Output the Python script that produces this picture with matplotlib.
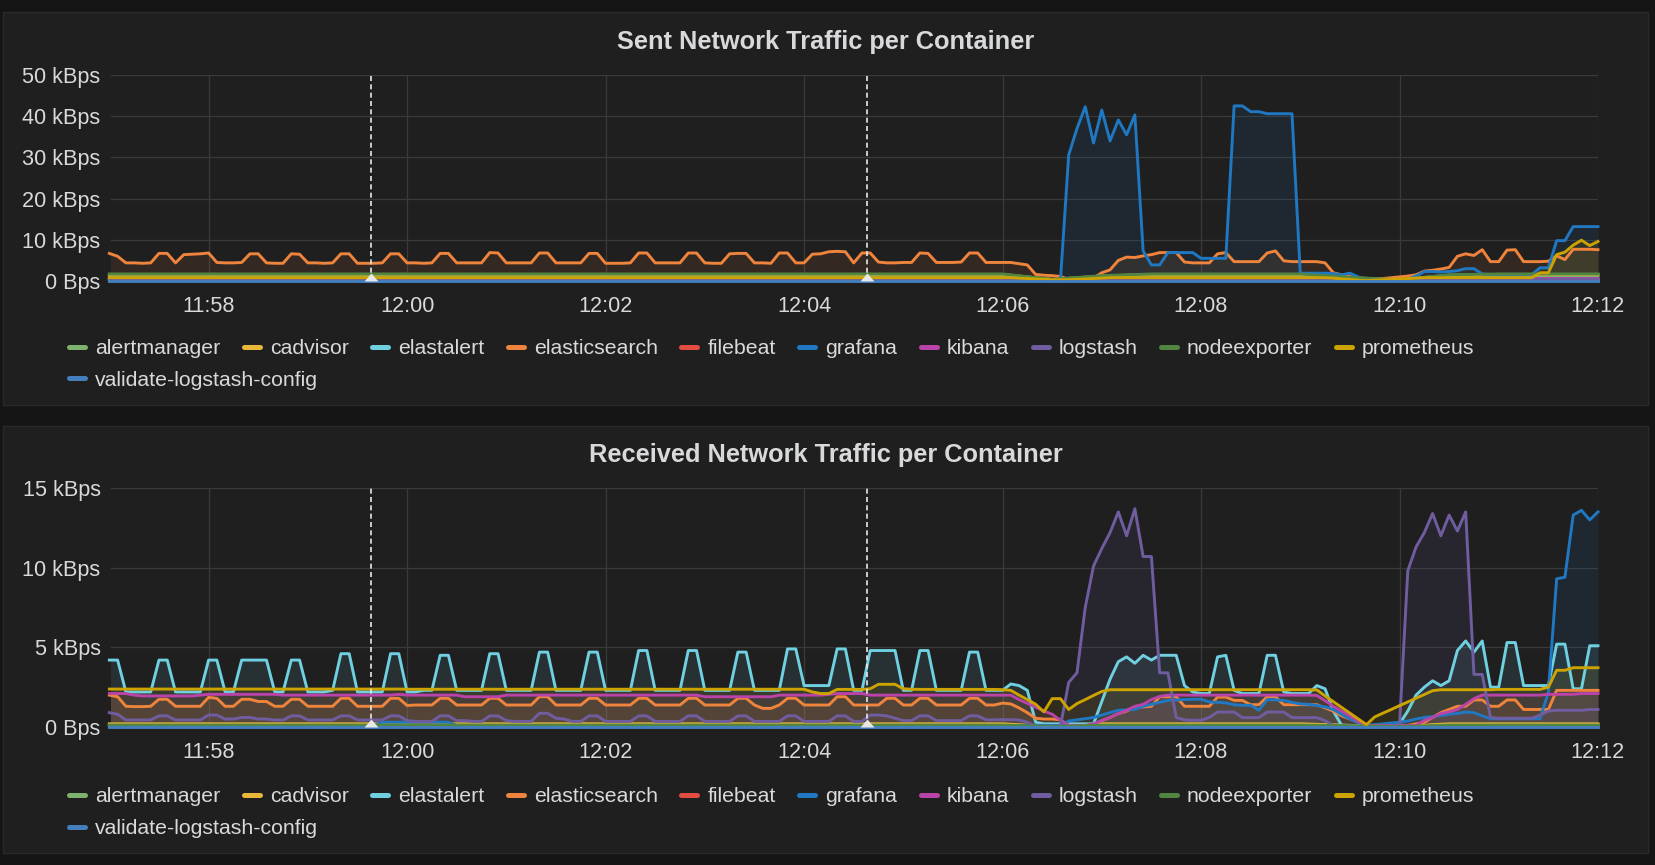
import numpy as np
import matplotlib
matplotlib.use('Agg')
import matplotlib.pyplot as plt
from matplotlib.lines import Line2D
from matplotlib.patches import Rectangle
from matplotlib.ticker import FuncFormatter

plt.rcParams['font.family'] = ['Liberation Sans', 'DejaVu Sans']

W, H = 1655, 865
START = 11 * 3600 + 57 * 60   # x values are seconds after 11:57:00
END = 900
TEXT = '#d8d9da'
FS = 15.6
LEGEND_FS = 15.3

containers = ['alertmanager', 'cadvisor', 'elastalert', 'elasticsearch', 'filebeat',
              'grafana', 'kibana', 'logstash', 'nodeexporter', 'prometheus',
              'validate-logstash-config']
colors = ['#7EB26D', '#EAB839', '#6ED0E0', '#EF843C', '#E24D42', '#1F78C1',
          '#BA43A9', '#705DA0', '#508642', '#CCA300', '#447EBC']

# annotation markers (seconds after 11:57:00)
annotation_times = [158, 458]

# ---------------- sent traffic, kBps ----------------
# busy series: one value every 5 s (one row = one minute)
sent_elasticsearch = [
    6.7, 6.0, 4.4, 4.4, 4.3, 4.4, 6.7, 6.7, 4.4, 6.4, 6.5, 6.6,
    6.8, 4.5, 4.4, 4.4, 4.5, 6.6, 6.6, 4.4, 4.3, 4.3, 6.6, 6.5,
    4.4, 4.4, 4.3, 4.4, 6.6, 6.6, 4.3, 4.3, 4.3, 4.4, 6.6, 6.6,
    4.4, 4.4, 4.3, 4.4, 6.7, 6.7, 4.4, 4.4, 4.4, 4.4, 6.9, 6.8,
    4.4, 4.4, 4.4, 4.4, 6.8, 6.8, 4.4, 4.4, 4.4, 4.4, 6.7, 6.7,
    4.3, 4.3, 4.3, 4.4, 6.8, 6.8, 4.4, 4.4, 4.4, 4.4, 6.8, 6.8,
    4.4, 4.3, 4.3, 6.6, 6.7, 6.7, 4.4, 4.4, 4.3, 6.8, 6.8, 4.4,
    4.4, 6.5, 6.6, 7.1, 7.2, 7.1, 4.4, 6.8, 6.8, 4.6, 4.4, 4.4,
    4.5, 4.5, 6.8, 6.7, 4.5, 4.5, 4.5, 4.6, 6.8, 6.8, 4.5, 4.5,
    4.5, 4.5, 4.2, 3.9, 1.6, 1.4, 1.3, 1.1, 0.4, 0.5, 0.6, 0.7,
    2.0, 2.7, 5.0, 5.8, 5.7, 6.1, 6.4, 6.9, 6.9, 6.9, 4.6, 4.4,
    4.4, 4.4, 6.6, 6.9, 4.7, 4.7, 4.7, 4.7, 6.8, 7.3, 4.9, 4.7,
    4.7, 4.7, 4.7, 4.4, 2.0, 1.5, 1.1, 0.6, 0.3, 0.4, 0.6, 0.8,
    1.0, 1.2, 1.5, 2.4, 2.6, 2.9, 3.3, 6.0, 6.6, 6.2, 7.6, 4.7,
    4.7, 7.5, 7.6, 4.7, 4.7, 4.7, 4.8, 6.1, 5.2, 7.7, 7.7, 7.7,
    7.6,
]
sent_grafana = [
    0.2, 0.2, 0.2, 0.2, 0.2, 0.2, 0.2, 0.2, 0.2, 0.2, 0.2, 0.2,
    0.2, 0.2, 0.2, 0.2, 0.2, 0.2, 0.2, 0.2, 0.2, 0.2, 0.2, 0.2,
    0.2, 0.2, 0.2, 0.2, 0.2, 0.2, 0.2, 0.2, 0.2, 0.2, 0.2, 0.2,
    0.2, 0.2, 0.2, 0.2, 0.2, 0.2, 0.2, 0.2, 0.2, 0.2, 0.2, 0.2,
    0.2, 0.2, 0.2, 0.2, 0.2, 0.2, 0.2, 0.2, 0.2, 0.2, 0.2, 0.2,
    0.2, 0.2, 0.2, 0.2, 0.2, 0.2, 0.2, 0.2, 0.2, 0.2, 0.2, 0.2,
    0.2, 0.2, 0.2, 0.2, 0.2, 0.2, 0.2, 0.2, 0.2, 0.2, 0.2, 0.2,
    0.2, 0.2, 0.2, 0.2, 0.2, 0.2, 0.2, 0.2, 0.2, 0.2, 0.2, 0.2,
    0.2, 0.2, 0.2, 0.2, 0.2, 0.2, 0.2, 0.2, 0.2, 0.2, 0.2, 0.2,
    0.2, 0.2, 0.2, 0.2, 0.2, 0.1, 0.1, 0.1, 30.6, 37.0, 42.3, 33.5,
    41.5, 34.0, 39.1, 35.5, 40.3, 7.3, 3.9, 3.9, 6.9, 6.9, 6.9, 6.9,
    5.5, 5.5, 5.5, 5.5, 42.5, 42.5, 41.1, 41.1, 40.6, 40.6, 40.6, 40.6,
    1.9, 1.9, 1.9, 1.9, 1.8, 1.5, 1.9, 1.0, 0.3, 0.2, 0.2, 0.2,
    0.2, 0.5, 1.2, 2.3, 2.3, 2.2, 2.3, 2.5, 3.0, 3.0, 1.7, 1.6,
    1.6, 1.6, 1.6, 1.6, 1.6, 3.2, 3.2, 9.8, 9.8, 13.2, 13.2, 13.2,
    13.2,
]
sent_prometheus = [
    0.8, 0.8, 0.8, 0.8, 0.8, 0.8, 0.8, 0.8, 0.8, 0.8, 0.8, 0.8,
    0.8, 0.8, 0.8, 0.8, 0.8, 0.8, 0.8, 0.8, 0.8, 0.8, 0.8, 0.8,
    0.8, 0.8, 0.8, 0.8, 0.8, 0.8, 0.8, 0.8, 0.8, 0.8, 0.8, 0.8,
    0.8, 0.8, 0.8, 0.8, 0.8, 0.8, 0.8, 0.8, 0.8, 0.8, 0.8, 0.8,
    0.8, 0.8, 0.8, 0.8, 0.8, 0.8, 0.8, 0.8, 0.8, 0.8, 0.8, 0.8,
    0.8, 0.8, 0.8, 0.8, 0.8, 0.8, 0.8, 0.8, 0.8, 0.8, 0.8, 0.8,
    0.8, 0.8, 0.8, 0.8, 0.8, 0.8, 0.8, 0.8, 0.8, 0.8, 0.8, 0.8,
    0.8, 0.8, 0.8, 0.8, 0.8, 0.8, 0.8, 0.8, 0.8, 0.8, 0.8, 0.8,
    0.8, 0.8, 0.8, 0.8, 0.8, 0.8, 0.8, 0.8, 0.8, 0.8, 0.8, 0.8,
    0.8, 0.8, 0.7, 0.6, 0.5, 0.4, 0.3, 0.3, 0.3, 0.4, 0.5, 0.6,
    0.7, 0.8, 0.8, 0.8, 0.8, 0.8, 0.8, 0.8, 0.8, 0.8, 0.8, 0.8,
    0.8, 0.8, 0.8, 0.8, 0.8, 0.8, 0.8, 0.8, 0.8, 0.8, 0.8, 0.8,
    0.8, 0.8, 0.8, 0.8, 0.7, 0.5, 0.4, 0.2, 0.1, 0.2, 0.3, 0.4,
    0.5, 0.6, 0.7, 0.8, 0.8, 0.8, 0.8, 0.8, 0.8, 0.8, 0.8, 0.8,
    0.8, 0.8, 0.8, 0.8, 0.8, 2.0, 2.0, 6.4, 7.0, 8.7, 9.9, 8.6,
    9.6,
]
# quiet series: one value every 30 s
sent_alertmanager = [1.3, 1.3, 1.3, 1.3, 1.3, 1.3, 1.3, 1.3, 1.3, 1.3,
                     1.3, 1.3, 1.3, 1.3, 1.3, 1.3, 1.3, 1.3, 1.3, 0.3,
                     1.0, 1.3, 1.3, 1.3, 1.3, 0.7, 0.2, 1.2, 1.3, 1.3, 1.3]
sent_cadvisor = [1.6, 1.6, 1.6, 1.6, 1.6, 1.6, 1.6, 1.6, 1.6, 1.6,
                 1.6, 1.6, 1.6, 1.6, 1.6, 1.6, 1.6, 1.6, 1.6, 0.4,
                 1.2, 1.6, 1.6, 1.6, 1.6, 0.8, 0.3, 1.4, 1.6, 1.6, 1.6]
sent_elastalert = [0.5, 0.5, 0.5, 0.5, 0.5, 0.5, 0.5, 0.5, 0.5, 0.5,
                   0.5, 0.5, 0.5, 0.5, 0.5, 0.5, 0.5, 0.5, 0.5, 0.1,
                   0.4, 0.5, 0.5, 0.5, 0.5, 0.3, 0.1, 0.4, 0.5, 0.5, 0.5]
sent_filebeat = [0.3, 0.3, 0.3, 0.3, 0.3, 0.3, 0.3, 0.3, 0.3, 0.3,
                 0.3, 0.3, 0.3, 0.3, 0.3, 0.3, 0.3, 0.3, 0.3, 0.1,
                 0.3, 0.3, 0.3, 0.3, 0.3, 0.2, 0.1, 0.3, 0.3, 0.3, 0.3]
sent_kibana = [0.6, 0.6, 0.6, 0.6, 0.6, 0.6, 0.6, 0.6, 0.6, 0.6,
               0.6, 0.6, 0.6, 0.6, 0.6, 0.6, 0.6, 0.6, 0.6, 0.1,
               0.5, 0.6, 0.6, 0.6, 0.6, 0.3, 0.1, 0.5, 0.6, 0.6, 0.6]
sent_logstash = [0.4, 0.4, 0.4, 0.4, 0.4, 0.4, 0.4, 0.4, 0.4, 0.4,
                 0.4, 0.4, 0.4, 0.4, 0.4, 0.4, 0.4, 0.4, 0.4, 0.1,
                 0.4, 0.4, 0.4, 0.4, 0.4, 0.2, 0.1, 0.4, 0.4, 0.4, 0.4]
sent_nodeexporter = [1.7, 1.7, 1.7, 1.7, 1.7, 1.7, 1.7, 1.7, 1.7, 1.7,
                     1.7, 1.7, 1.7, 1.7, 1.7, 1.7, 1.7, 1.7, 1.7, 0.4,
                     1.3, 1.7, 1.7, 1.7, 1.7, 0.9, 0.3, 1.5, 1.7, 1.7, 1.7]
sent_validate = [0.0, 0.0, 0.0, 0.0, 0.0, 0.0, 0.0, 0.0, 0.0, 0.0,
                 0.0, 0.0, 0.0, 0.0, 0.0, 0.0, 0.0, 0.0, 0.0, 0.0,
                 0.0, 0.0, 0.0, 0.0, 0.0, 0.0, 0.0, 0.0, 0.0, 0.0, 0.0]

# ---------------- received traffic, kBps ----------------
recv_elastalert = [
    4.2, 4.2, 2.2, 2.2, 2.2, 2.2, 4.2, 4.2, 2.2, 2.2, 2.2, 2.2,
    4.2, 4.2, 2.2, 2.2, 4.2, 4.2, 4.2, 4.2, 2.2, 2.2, 4.2, 4.2,
    2.2, 2.2, 2.2, 2.3, 4.6, 4.6, 2.2, 2.2, 2.2, 2.2, 4.6, 4.6,
    2.2, 2.2, 2.3, 2.3, 4.5, 4.5, 2.3, 2.3, 2.3, 2.3, 4.6, 4.6,
    2.3, 2.3, 2.3, 2.3, 4.7, 4.7, 2.3, 2.3, 2.3, 2.3, 4.7, 4.7,
    2.3, 2.3, 2.3, 2.3, 4.8, 4.8, 2.3, 2.3, 2.3, 2.3, 4.8, 4.8,
    2.3, 2.3, 2.3, 2.3, 4.7, 4.7, 2.3, 2.3, 2.3, 2.3, 4.9, 4.9,
    2.6, 2.6, 2.6, 2.6, 4.9, 4.9, 2.3, 2.3, 4.8, 4.8, 4.8, 4.8,
    2.3, 2.3, 4.8, 4.8, 2.3, 2.3, 2.3, 2.3, 4.7, 4.7, 2.3, 2.3,
    2.3, 2.7, 2.6, 2.3, 0.3, 0.2, 0.2, 0.2, 0.2, 0.2, 0.2, 0.2,
    1.6, 3.0, 4.1, 4.4, 4.0, 4.5, 4.2, 4.5, 4.5, 4.5, 2.6, 2.2,
    2.1, 2.1, 4.4, 4.5, 2.3, 2.1, 2.1, 2.1, 4.5, 4.5, 2.2, 2.1,
    2.1, 2.1, 2.6, 2.4, 1.0, 0.1, 0.1, 0.1, 0.1, 0.1, 0.1, 0.1,
    0.2, 1.0, 2.0, 2.5, 2.9, 2.6, 2.9, 4.8, 5.4, 4.7, 5.4, 2.5,
    2.5, 5.3, 5.3, 2.6, 2.6, 2.6, 2.6, 5.2, 5.2, 2.4, 2.4, 5.1,
    5.1,
]
recv_elasticsearch = [
    2.0, 1.9, 1.3, 1.28, 1.28, 1.3, 1.74, 1.74, 1.3, 1.3, 1.3, 1.3,
    1.86, 1.8, 1.3, 1.3, 1.74, 1.74, 1.6, 1.6, 1.3, 1.3, 1.74, 1.74,
    1.3, 1.3, 1.3, 1.3, 1.8, 1.8, 1.3, 1.3, 1.3, 1.3, 1.8, 1.8,
    1.35, 1.38, 1.38, 1.38, 1.8, 1.8, 1.38, 1.38, 1.38, 1.38, 1.8, 1.8,
    1.38, 1.38, 1.38, 1.38, 1.9, 1.9, 1.38, 1.38, 1.38, 1.38, 1.8, 1.8,
    1.38, 1.38, 1.38, 1.38, 1.8, 1.8, 1.38, 1.38, 1.38, 1.38, 1.8, 1.8,
    1.38, 1.38, 1.38, 1.38, 1.8, 1.8, 1.38, 1.17, 1.17, 1.38, 1.8, 1.8,
    1.38, 1.38, 1.38, 1.38, 1.9, 1.9, 1.38, 1.38, 1.38, 1.38, 1.8, 1.8,
    1.38, 1.38, 1.8, 1.8, 1.38, 1.38, 1.38, 1.38, 1.8, 1.8, 1.38, 1.38,
    1.5, 1.45, 1.2, 0.9, 0.55, 0.5, 0.5, 0.45, 0.1, 0.1, 0.1, 0.1,
    0.4, 0.6, 0.84, 1.0, 1.26, 1.26, 1.3, 1.9, 1.9, 1.9, 1.3, 1.3,
    1.3, 1.3, 1.88, 1.88, 1.67, 1.67, 1.4, 1.4, 1.9, 1.9, 1.4, 1.4,
    1.4, 1.4, 1.4, 1.2, 1.0, 0.7, 0.5, 0.3, 0.1, 0.1, 0.1, 0.1,
    0.1, 0.1, 0.2, 0.3, 0.6, 0.9, 1.1, 1.3, 1.3, 1.7, 1.7, 1.3,
    1.3, 1.7, 1.7, 1.1, 1.1, 1.1, 1.1, 2.3, 2.3, 2.3, 2.3, 2.3,
    2.3,
]
recv_kibana = [
    2.1, 2.1, 2.1, 2.0, 1.95, 1.95, 1.95, 1.95, 1.95, 1.95, 1.95, 2.0,
    2.05, 2.05, 2.05, 2.05, 2.05, 2.05, 2.05, 2.05, 2.05, 2.0, 2.0, 2.0,
    2.0, 2.0, 2.0, 2.0, 2.0, 2.0, 2.0, 2.0, 2.0, 2.0, 2.0, 2.05,
    2.0, 2.0, 2.0, 2.0, 2.0, 2.0, 2.0, 1.9, 1.9, 1.9, 1.9, 1.9,
    2.0, 2.0, 2.0, 2.0, 2.0, 2.0, 2.0, 2.0, 2.0, 2.0, 2.0, 2.0,
    2.0, 2.0, 2.0, 2.0, 2.0, 2.0, 2.0, 2.0, 2.0, 2.0, 2.0, 2.0,
    1.9, 1.9, 1.9, 1.9, 1.9, 1.9, 1.9, 1.9, 1.9, 2.0, 2.0, 2.0,
    2.0, 2.0, 2.0, 2.05, 2.1, 2.1, 2.1, 2.1, 2.0, 2.0, 2.0, 2.0,
    2.0, 2.0, 2.0, 2.0, 2.0, 2.0, 2.0, 2.0, 2.0, 2.0, 2.0, 2.0,
    2.0, 2.0, 1.72, 1.48, 1.25, 1.0, 0.8, 0.42, 0.1, 0.1, 0.1, 0.2,
    0.4, 0.6, 0.84, 1.05, 1.3, 1.42, 1.72, 1.92, 2.0, 2.0, 2.0, 2.0,
    2.0, 2.0, 2.0, 2.0, 2.0, 2.0, 2.0, 2.0, 2.0, 2.0, 2.0, 2.0,
    2.0, 2.0, 1.98, 1.65, 1.3, 1.0, 0.7, 0.35, 0.1, 0.1, 0.1, 0.1,
    0.1, 0.1, 0.1, 0.42, 0.6, 0.84, 0.95, 1.1, 1.42, 1.78, 2.0, 2.0,
    2.0, 2.0, 2.0, 2.0, 2.0, 2.0, 2.05, 2.05, 2.05, 2.05, 2.1, 2.1,
    2.1,
]
recv_logstash = [
    0.9, 0.8, 0.44, 0.44, 0.44, 0.44, 0.7, 0.7, 0.44, 0.44, 0.44, 0.44,
    0.75, 0.75, 0.5, 0.5, 0.6, 0.6, 0.5, 0.5, 0.44, 0.44, 0.7, 0.7,
    0.44, 0.44, 0.44, 0.44, 0.7, 0.7, 0.44, 0.44, 0.44, 0.44, 0.7, 0.7,
    0.4, 0.35, 0.35, 0.35, 0.7, 0.7, 0.4, 0.4, 0.35, 0.35, 0.7, 0.7,
    0.4, 0.35, 0.35, 0.35, 0.86, 0.86, 0.55, 0.5, 0.35, 0.35, 0.7, 0.7,
    0.35, 0.35, 0.35, 0.35, 0.7, 0.7, 0.35, 0.35, 0.35, 0.35, 0.7, 0.7,
    0.35, 0.35, 0.35, 0.35, 0.7, 0.7, 0.35, 0.35, 0.35, 0.35, 0.7, 0.7,
    0.35, 0.35, 0.35, 0.35, 0.7, 0.7, 0.35, 0.35, 0.75, 0.75, 0.7, 0.55,
    0.4, 0.4, 0.7, 0.7, 0.4, 0.4, 0.4, 0.4, 0.7, 0.7, 0.45, 0.45,
    0.46, 0.46, 0.44, 0.3, 0.05, 0.05, 0.05, 0.05, 2.8, 3.4, 7.5, 10.1,
    11.2, 12.2, 13.5, 12.0, 13.7, 10.7, 10.7, 3.4, 3.4, 0.6, 0.45, 0.42,
    0.42, 0.6, 0.94, 0.94, 0.94, 0.59, 0.59, 0.59, 0.94, 0.94, 0.94, 0.59,
    0.59, 0.59, 0.59, 0.4, 0.1, 0.05, 0.05, 0.05, 0.05, 0.05, 0.05, 0.05,
    0.1, 9.8, 11.3, 12.2, 13.4, 12.0, 13.3, 12.3, 13.5, 3.3, 3.3, 0.6,
    0.55, 0.55, 0.55, 0.55, 0.55, 0.75, 1.0, 1.05, 1.05, 1.05, 1.05, 1.1,
    1.1,
]
recv_grafana = [
    0.1, 0.1, 0.1, 0.1, 0.1, 0.1, 0.1, 0.1, 0.1, 0.1, 0.1, 0.1,
    0.1, 0.1, 0.1, 0.1, 0.1, 0.1, 0.1, 0.1, 0.1, 0.1, 0.1, 0.1,
    0.1, 0.1, 0.1, 0.1, 0.1, 0.1, 0.1, 0.1, 0.1, 0.3, 0.3, 0.3,
    0.3, 0.3, 0.3, 0.3, 0.3, 0.3, 0.1, 0.1, 0.1, 0.1, 0.1, 0.1,
    0.1, 0.1, 0.1, 0.1, 0.1, 0.1, 0.1, 0.1, 0.1, 0.1, 0.1, 0.1,
    0.1, 0.1, 0.1, 0.1, 0.1, 0.1, 0.1, 0.1, 0.1, 0.1, 0.1, 0.1,
    0.1, 0.1, 0.1, 0.1, 0.1, 0.1, 0.1, 0.1, 0.1, 0.1, 0.1, 0.1,
    0.1, 0.1, 0.1, 0.1, 0.1, 0.1, 0.1, 0.1, 0.1, 0.1, 0.1, 0.1,
    0.1, 0.1, 0.1, 0.1, 0.1, 0.1, 0.1, 0.1, 0.1, 0.1, 0.1, 0.1,
    0.1, 0.1, 0.1, 0.1, 0.1, 0.1, 0.1, 0.1, 0.38, 0.45, 0.52, 0.6,
    0.75, 0.9, 1.05, 1.07, 1.1, 1.3, 1.42, 1.55, 1.67, 1.7, 1.72, 1.74,
    1.74, 1.57, 1.55, 1.51, 1.4, 1.36, 1.36, 1.05, 1.72, 1.7, 1.67, 1.55,
    1.45, 1.42, 1.35, 1.26, 1.1, 0.8, 0.5, 0.3, 0.1, 0.15, 0.2, 0.25,
    0.3, 0.38, 0.5, 0.6, 0.65, 0.73, 0.8, 0.85, 0.94, 0.9, 0.7, 0.52,
    0.52, 0.52, 0.52, 0.52, 0.52, 0.52, 2.2, 9.3, 9.4, 13.3, 13.6, 13.0,
    13.5,
]
recv_prometheus = [
    2.38, 2.38, 2.38, 2.38, 2.38, 2.38, 2.38, 2.38, 2.38, 2.38, 2.38, 2.38,
    2.38, 2.38, 2.38, 2.38, 2.38, 2.38, 2.38, 2.38, 2.38, 2.38, 2.38, 2.38,
    2.38, 2.38, 2.38, 2.38, 2.38, 2.38, 2.38, 2.38, 2.38, 2.38, 2.38, 2.38,
    2.37, 2.37, 2.37, 2.37, 2.37, 2.37, 2.37, 2.37, 2.37, 2.37, 2.37, 2.37,
    2.37, 2.37, 2.37, 2.37, 2.37, 2.37, 2.37, 2.37, 2.37, 2.37, 2.37, 2.37,
    2.37, 2.37, 2.37, 2.37, 2.37, 2.37, 2.37, 2.37, 2.37, 2.37, 2.37, 2.37,
    2.37, 2.37, 2.37, 2.37, 2.37, 2.37, 2.37, 2.37, 2.37, 2.37, 2.37, 2.37,
    2.37, 2.2, 2.1, 2.1, 2.36, 2.36, 2.36, 2.36, 2.4, 2.68, 2.68, 2.68,
    2.4, 2.37, 2.36, 2.36, 2.36, 2.36, 2.36, 2.36, 2.36, 2.36, 2.36, 2.36,
    2.34, 2.3, 2.0, 1.72, 1.43, 0.95, 1.78, 1.78, 1.1, 1.47, 1.72, 1.98,
    2.23, 2.34, 2.34, 2.34, 2.34, 2.34, 2.34, 2.34, 2.34, 2.34, 2.34, 2.34,
    2.34, 2.34, 2.34, 2.34, 2.34, 2.34, 2.34, 2.34, 2.34, 2.34, 2.34, 2.34,
    2.34, 2.34, 2.33, 1.95, 1.59, 1.23, 0.87, 0.51, 0.15, 0.63, 0.87, 1.1,
    1.34, 1.57, 1.81, 2.04, 2.28, 2.34, 2.34, 2.34, 2.34, 2.34, 2.34, 2.34,
    2.36, 2.36, 2.36, 2.36, 2.36, 2.36, 2.5, 3.56, 3.56, 3.72, 3.72, 3.72,
    3.72,
]
recv_alertmanager = [0.15, 0.15, 0.15, 0.15, 0.15, 0.15, 0.15, 0.15, 0.15, 0.15,
                     0.15, 0.15, 0.15, 0.15, 0.15, 0.15, 0.15, 0.15, 0.15, 0.03,
                     0.15, 0.15, 0.15, 0.15, 0.15, 0.1, 0.03, 0.15, 0.15, 0.15, 0.15]
recv_cadvisor = [0.2, 0.2, 0.2, 0.2, 0.2, 0.2, 0.2, 0.2, 0.2, 0.2,
                 0.2, 0.2, 0.2, 0.2, 0.2, 0.2, 0.2, 0.2, 0.2, 0.03,
                 0.2, 0.2, 0.2, 0.2, 0.2, 0.1, 0.03, 0.2, 0.2, 0.2, 0.2]
recv_filebeat = [0.05, 0.05, 0.05, 0.05, 0.05, 0.05, 0.05, 0.05, 0.05, 0.05,
                 0.05, 0.05, 0.05, 0.05, 0.05, 0.05, 0.05, 0.05, 0.05, 0.02,
                 0.05, 0.05, 0.05, 0.05, 0.05, 0.03, 0.02, 0.05, 0.05, 0.05, 0.05]
recv_nodeexporter = [0.12, 0.12, 0.12, 0.12, 0.12, 0.12, 0.12, 0.12, 0.12, 0.12,
                     0.12, 0.12, 0.12, 0.12, 0.12, 0.12, 0.12, 0.12, 0.12, 0.03,
                     0.12, 0.12, 0.12, 0.12, 0.12, 0.08, 0.03, 0.12, 0.12, 0.12, 0.12]
recv_validate = [0.0, 0.0, 0.0, 0.0, 0.0, 0.0, 0.0, 0.0, 0.0, 0.0,
                 0.0, 0.0, 0.0, 0.0, 0.0, 0.0, 0.0, 0.0, 0.0, 0.0,
                 0.0, 0.0, 0.0, 0.0, 0.0, 0.0, 0.0, 0.0, 0.0, 0.0, 0.0]

sent = [sent_alertmanager, sent_cadvisor, sent_elastalert, sent_elasticsearch,
        sent_filebeat, sent_grafana, sent_kibana, sent_logstash,
        sent_nodeexporter, sent_prometheus, sent_validate]
recv = [recv_alertmanager, recv_cadvisor, recv_elastalert, recv_elasticsearch,
        recv_filebeat, recv_grafana, recv_kibana, recv_logstash,
        recv_nodeexporter, recv_prometheus, recv_validate]


def fmt_time(s, pos):
    m = int(round((START + s) / 60))
    return f'{m // 60}:{m % 60:02d}'


def fmt_rate(v, pos):
    return '0 Bps' if v == 0 else f'{v:g} kBps'


def draw_legend(fig, renderer, y):
    # grafana style legend: flowing items, wraps to next row
    x = 66
    for name, color in zip(containers, colors):
        label = fig.text(0, 0, name, fontsize=LEGEND_FS, color=TEXT, va='baseline')
        w = label.get_window_extent(renderer).width
        if x + 29 + w > 1640:
            x, y = 66, y + 32
        label.set_position(((x + 29) / W, 1 - (y + 7.3) / H))
        fig.add_artist(Line2D([(x + 3) / W, (x + 19) / W], [1 - y / H] * 2,
                              color=color, lw=3.6, solid_capstyle='round'))
        x += 29 + w + 20.5


def draw_panel(fig, renderer, series, box, plot, ymax, ystep, title, title_y, legend_y):
    x0, y0, x1, y1 = box
    fig.patches.append(Rectangle((x0 / W, 1 - y1 / H), (x1 - x0) / W, (y1 - y0) / H,
                                 transform=fig.transFigure, facecolor='#1f1f20',
                                 edgecolor='#2a2a2b', lw=1, zorder=-10))
    fig.text((x0 + x1) / 2 / W, 1 - title_y / H, title, ha='center', va='baseline',
             fontsize=18.3, fontweight='bold', color=TEXT)

    l, t, r, b = plot
    ax = fig.add_axes([l / W, 1 - b / H, (r - l) / W, (b - t) / H])
    ax.set_facecolor('#1f1f20')
    for vals, color in zip(series, colors):
        v = np.array(vals)
        tt = np.linspace(0, END, len(v))
        ax.fill_between(tt, v, 0, color=color, alpha=0.1, lw=0)
        ax.plot(tt, v, color=color, lw=2.1, clip_on=False)

    for at in annotation_times:
        ax.axvline(at, color='#e8e8e8', lw=1.2, ls=(0, (3, 2)), zorder=5)
        ax.plot([at], [0], marker=[(-7, 0), (7, 0), (0, 8)], ms=11.5,
                color='#e8e8e8', mew=0, clip_on=False, zorder=6)

    ax.set_xlim(1, END)
    ax.set_ylim(0, ymax)
    ax.set_xticks(np.arange(60, END + 1, 120))
    ax.set_yticks(np.arange(0, ymax + 1, ystep))
    ax.xaxis.set_major_formatter(FuncFormatter(fmt_time))
    ax.yaxis.set_major_formatter(FuncFormatter(fmt_rate))
    ax.tick_params(length=0, labelsize=FS, labelcolor=TEXT)
    ax.tick_params(axis='x', pad=11)
    ax.tick_params(axis='y', pad=7.5)
    ax.grid(True, color='#3a3a3b', lw=0.9)
    ax.set_axisbelow(True)
    for s in ax.spines.values():
        s.set_visible(False)

    draw_legend(fig, renderer, legend_y)


fig = plt.figure(figsize=(W / 100, H / 100), dpi=100, facecolor='#151515')
renderer = fig.canvas.get_renderer()

draw_panel(fig, renderer, sent, (3, 12, 1648, 405), (111, 75, 1598, 281), 50, 10,
           'Sent Network Traffic per Container', 48.5, 346.5)
draw_panel(fig, renderer, recv, (3, 426, 1648, 853), (111, 488, 1598, 727), 15, 5,
           'Received Network Traffic per Container', 461.5, 795)

fig.savefig('out.png', dpi=100, facecolor=fig.get_facecolor())
